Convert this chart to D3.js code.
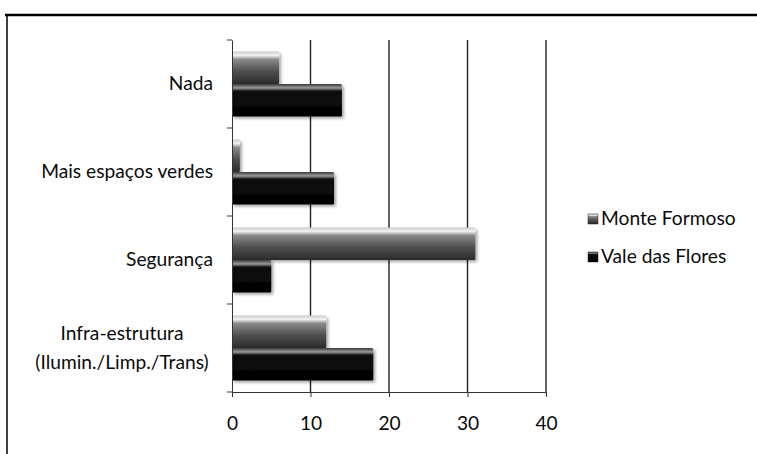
<!DOCTYPE html>
<html><head><meta charset="utf-8">
<script src="https://cdn.jsdelivr.net/npm/d3@7"></script>
<style>body{margin:0;background:#fff}svg{display:block}text{font-family:Lato,"Open Sans",sans-serif;fill:#0a0a0a}</style>
</head><body><svg id="c" width="757" height="454"></svg>
<script>
const categories = ["Nada", "Mais espaços verdes", "Segurança", "Infra-estrutura\n(Ilumin./Limp./Trans)"];
const seriesNames = ["Monte Formoso", "Vale das Flores"];
const monteFormoso = [6, 1, 31, 12];
const valeDasFlores = [14, 13, 5, 18];
const xTicks = [0, 10, 20, 30, 40];

const FS = 19.2;
const svg = d3.select("#c");
const defs = svg.append("defs");
function grad(id, stops){
  const g = defs.append("linearGradient").attr("id", id).attr("x1",0).attr("y1",0).attr("x2",0).attr("y2",1);
  stops.forEach(s=>g.append("stop").attr("offset",s[0]).attr("stop-color",s[1]));
}
grad("gMF", [[0,"#c8c8c8"],[0.12,"#f4f4f4"],[0.25,"#8a8a8a"],[0.6,"#505050"],[1,"#2a2a2a"]]);
grad("gVF", [[0,"#3a3a3a"],[0.12,"#9a9a9a"],[0.22,"#101010"],[1,"#000"]]);
const f = defs.append("filter").attr("id","sh").attr("x","-10%").attr("y","-20%").attr("width","130%").attr("height","160%");
f.append("feDropShadow").attr("dx",2).attr("dy",2).attr("stdDeviation",1.5).attr("flood-color","#000").attr("flood-opacity",0.35);

// frame
svg.append("line").attr("x1",5).attr("x2",757).attr("y1",15).attr("y2",15).attr("stroke","#000").attr("stroke-width",2.5);
svg.append("line").attr("x1",7).attr("x2",7).attr("y1",15).attr("y2",454).attr("stroke","#000").attr("stroke-width",1.5);

const x = d3.scaleLinear().domain([0,40]).range([232,546]);
const y = d3.scaleBand().domain(categories).range([40,392]);
const inner = d3.scaleBand().domain(seriesNames).range([0,y.bandwidth()]).paddingOuter(0.35).paddingInner(0);

// gridlines
svg.append("g").selectAll("line").data(xTicks.slice(1)).join("line")
  .attr("x1",d=>x(d)).attr("x2",d=>x(d)).attr("y1",40).attr("y2",392)
  .attr("stroke","#222").attr("stroke-width",1.4);

// bars
const data = [monteFormoso, valeDasFlores];
const fills = ["url(#gMF)","url(#gVF)"];
seriesNames.forEach((s,i)=>{
  svg.append("g").attr("filter","url(#sh)").selectAll("rect").data(categories).join("rect")
    .attr("x",x(0)).attr("y",c=>y(c)+inner(s))
    .attr("width",(c,j)=>x(data[i][j])-x(0)).attr("height",inner.bandwidth())
    .attr("fill",fills[i]).attr("rx",1.5);
});

// axes
const yAxis = d3.axisLeft(y).tickSize(0).tickFormat("");
const ya = svg.append("g").attr("transform","translate(232,0)").call(yAxis);
ya.select(".domain").attr("stroke","#333");
svg.append("g").selectAll("line").data(d3.range(categories.length+1)).join("line")
  .attr("x1",227).attr("x2",232).attr("y1",d=>40+d*y.step()).attr("y2",d=>40+d*y.step()).attr("stroke","#333");

const xa = svg.append("g").attr("transform","translate(0,392)").call(d3.axisBottom(x).tickValues(xTicks).tickSize(5).tickPadding(19));
xa.select(".domain").attr("stroke","#333");
xa.selectAll("line").attr("stroke","#333");
xa.selectAll("text").attr("font-size",FS).attr("font-family","Lato, sans-serif").attr("fill","#0a0a0a");

// category labels
categories.forEach(c=>{
  const lines = c.split("\n");
  const cy = y(c)+y.bandwidth()/2;
  if(lines.length===1){
    svg.append("text").attr("x",213).attr("y",cy+6).attr("text-anchor","end").attr("font-size",FS).text(c);
  } else {
    lines.forEach((l,k)=>{
      svg.append("text").attr("x",122).attr("y",cy-8+k*29).attr("text-anchor","middle").attr("font-size",FS).text(l);
    });
  }
});

// legend
const lg = svg.append("g");
seriesNames.forEach((s,i)=>{
  const ly = 219 + i*38;
  lg.append("rect").attr("x",588).attr("y",ly-5).attr("width",10).attr("height",10).attr("fill",fills[i]).attr("stroke","#222").attr("stroke-width",0.5);
  lg.append("text").attr("x",601).attr("y",ly+6).attr("font-size",FS).text(s);
});
</script></body></html>
